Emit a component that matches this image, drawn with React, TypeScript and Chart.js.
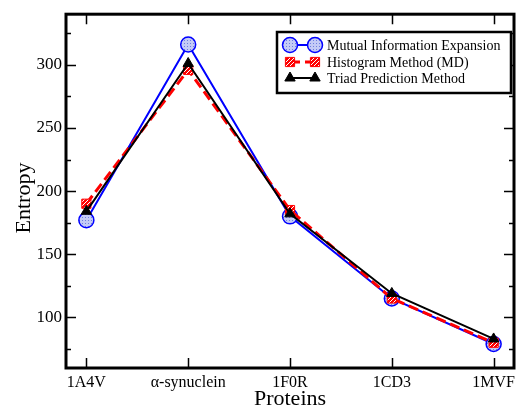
import React, { useEffect, useRef } from "react";
import { Chart, registerables } from "chart.js";

Chart.register(...registerables);

const proteins = ["1A4V", "\u03b1-synuclein", "1F0R", "1CD3", "1MVF"];
const mieValues = [177, 316, 180, 115, 79];
const histValues = [190, 296, 185, 115, 80];
const triadValues = [184, 301, 182, 119, 83];
const yMajorTicks = [100, 150, 200, 250, 300];
const yMinorTicks = [75, 125, 175, 225, 275, 325];
const seriesNames = [
  "Mutual Information Expansion",
  "Histogram Method (MD)",
  "Triad Prediction Method",
];
const xTitle = "Proteins";
const yTitle = "Entropy";

const FONT = "'Liberation Serif', 'Times New Roman', serif";

function makePattern(kind: "blue" | "red"): CanvasPattern | string {
  const c = document.createElement("canvas");
  const ctx = c.getContext("2d");
  if (!ctx) return kind === "blue" ? "#b0b8f0" : "#ff6060";
  if (kind === "blue") {
    c.width = 3;
    c.height = 3;
    ctx.fillStyle = "#c4cbf6";
    ctx.fillRect(0, 0, 3, 3);
    ctx.fillStyle = "#6f7fe0";
    ctx.fillRect(1, 1, 1, 1);
  } else {
    c.width = 4;
    c.height = 4;
    ctx.fillStyle = "#ff0000";
    ctx.fillRect(0, 0, 4, 4);
    ctx.fillStyle = "#ffffff";
    for (let i = 0; i < 4; i++) {
      ctx.fillRect((3 - i + 4) % 4, i, 1, 1);
    }
  }
  return ctx.createPattern(c, "repeat") || "#ffaaaa";
}

const frameTicksPlugin = {
  id: "frameTicks",
  afterDatasetsDraw(chart: any) {
    const { ctx, chartArea } = chart;
    const xs = chart.scales.x;
    const ys = chart.scales.y;
    const { left, right, top, bottom } = chartArea;
    ctx.save();
    ctx.strokeStyle = "#000";
    ctx.lineWidth = 1.5;
    ctx.beginPath();
    yMajorTicks.forEach((v) => {
      const y = Math.round(ys.getPixelForValue(v)) + 0.5;
      ctx.moveTo(left, y);
      ctx.lineTo(left + 10, y);
      ctx.moveTo(right, y);
      ctx.lineTo(right - 10, y);
    });
    yMinorTicks.forEach((v) => {
      const y = Math.round(ys.getPixelForValue(v)) + 0.5;
      ctx.moveTo(left, y);
      ctx.lineTo(left + 5, y);
      ctx.moveTo(right, y);
      ctx.lineTo(right - 5, y);
    });
    proteins.forEach((_, i) => {
      const x = Math.round(xs.getPixelForValue(i)) + 0.5;
      ctx.moveTo(x, bottom);
      ctx.lineTo(x, bottom - 10);
      ctx.moveTo(x, top);
      ctx.lineTo(x, top + 10);
    });
    ctx.stroke();
    ctx.lineWidth = 3;
    ctx.strokeRect(left, top, right - left, bottom - top);
    ctx.restore();

    // y-axis title
    ctx.save();
    ctx.fillStyle = "#000";
    ctx.font = `22px ${FONT}`;
    ctx.textAlign = "center";
    ctx.textBaseline = "middle";
    ctx.translate(24, 198);
    ctx.rotate(-Math.PI / 2);
    ctx.fillText(yTitle, 0, 0);
    ctx.restore();
  },
};

const legendPlugin = {
  id: "customLegend",
  afterDraw(chart: any) {
    const { ctx } = chart;
    const bx = 277, by = 32, bw = 234, bh = 61;
    ctx.save();
    ctx.fillStyle = "#fff";
    ctx.fillRect(bx, by, bw, bh);
    ctx.strokeStyle = "#000";
    ctx.lineWidth = 2.5;
    ctx.strokeRect(bx, by, bw, bh);
    const rows = [45, 62, 78];
    const x1 = 290, x2 = 315, tx = 327;
    chart.data.datasets.forEach((ds: any, i: number) => {
      const y = rows[i];
      ctx.save();
      ctx.strokeStyle = ds.borderColor;
      ctx.lineWidth = ds.borderWidth;
      ctx.setLineDash(ds.borderDash || []);
      ctx.beginPath();
      ctx.moveTo(x1, y);
      ctx.lineTo(x2, y);
      ctx.stroke();
      ctx.restore();
      [x1, x2].forEach((px) => {
        ctx.save();
        ctx.fillStyle = ds.pointBackgroundColor;
        ctx.strokeStyle = ds.pointBorderColor;
        ctx.lineWidth = ds.pointBorderWidth;
        ctx.beginPath();
        const r = ds.pointRadius;
        if (ds.pointStyle === "rect") {
          const s = r * Math.SQRT1_2;
          ctx.rect(px - s, y - s, 2 * s, 2 * s);
        } else if (ds.pointStyle === "triangle") {
          ctx.moveTo(px, y - r);
          ctx.lineTo(px + r * 0.866, y + r * 0.5);
          ctx.lineTo(px - r * 0.866, y + r * 0.5);
          ctx.closePath();
        } else {
          ctx.arc(px, y, r, 0, Math.PI * 2);
        }
        ctx.fill();
        ctx.stroke();
        ctx.restore();
      });
      ctx.fillStyle = "#000";
      ctx.font = `14px ${FONT}`;
      ctx.textAlign = "left";
      ctx.textBaseline = "middle";
      ctx.fillText(ds.label, tx, y + 1);
    });
    ctx.restore();
  },
};

export default function App() {
  const canvasRef = useRef<HTMLCanvasElement | null>(null);

  useEffect(() => {
    if (!canvasRef.current) return;
    const bluePat = makePattern("blue");
    const redPat = makePattern("red");
    const toPts = (arr: number[]) => arr.map((v, i) => ({ x: i, y: v }));
    const chart = new Chart(canvasRef.current, {
      type: "line",
      data: {
        datasets: [
          {
            label: seriesNames[0],
            data: toPts(mieValues),
            borderColor: "#0000ff",
            borderWidth: 2,
            pointStyle: "circle",
            pointRadius: 7.5,
            pointBackgroundColor: bluePat as any,
            pointBorderColor: "#0000ff",
            pointBorderWidth: 1.5,
            order: 3,
          },
          {
            label: seriesNames[1],
            data: toPts(histValues),
            borderColor: "#ff0000",
            borderWidth: 3,
            borderDash: [10, 5],
            pointStyle: "rect",
            pointRadius: 6.5,
            pointBackgroundColor: redPat as any,
            pointBorderColor: "#ff0000",
            pointBorderWidth: 1,
            order: 2,
          },
          {
            label: seriesNames[2],
            data: toPts(triadValues),
            borderColor: "#000000",
            borderWidth: 2,
            pointStyle: "triangle",
            pointRadius: 6,
            pointBackgroundColor: "#000000",
            pointBorderColor: "#000000",
            pointBorderWidth: 1,
            order: 1,
          },
        ] as any,
      },
      options: {
        animation: false,
        responsive: false,
        devicePixelRatio: 1,
        layout: { padding: { left: 0, top: 13, right: 2, bottom: 0 } },
        plugins: {
          legend: { display: false },
          tooltip: { enabled: false },
        },
        scales: {
          x: {
            type: "linear",
            min: -0.2,
            max: 4.2,
            afterBuildTicks: (s: any) => {
              s.ticks = proteins.map((_, i) => ({ value: i }));
            },
            afterFit: (s: any) => {
              s.height = 42;
            },
            grid: { display: false, drawTicks: false },
            border: { display: false },
            ticks: {
              padding: 5,
              color: "#000",
              font: { family: FONT, size: 16 },
              maxRotation: 0,
              autoSkip: false,
              callback: (v: any) => proteins[Math.round(Number(v))] ?? "",
            },
            title: {
              display: true,
              text: xTitle,
              color: "#000",
              font: { family: FONT, size: 22, lineHeight: 1 },
              padding: { top: 0, bottom: 0 },
            },
          },
          y: {
            type: "linear",
            min: 60,
            max: 340,
            afterBuildTicks: (s: any) => {
              s.ticks = yMajorTicks.map((v) => ({ value: v }));
            },
            afterFit: (s: any) => {
              s.width = 66;
            },
            grid: { display: false, drawTicks: false },
            border: { display: false },
            ticks: {
              padding: 4,
              color: "#000",
              font: { family: FONT, size: 17 },
            },
          },
        },
      },
      plugins: [frameTicksPlugin, legendPlugin],
    });
    return () => chart.destroy();
  }, []);

  return (
    <div style={{ position: "fixed", left: 0, top: 0, width: 523, height: 410, background: "#fff" }}>
      <canvas ref={canvasRef} width={523} height={410} style={{ display: "block" }} />
    </div>
  );
}
